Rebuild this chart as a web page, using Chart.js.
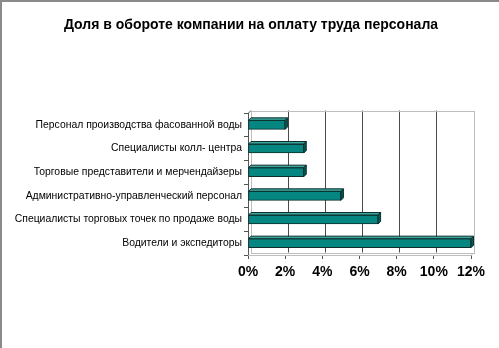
<!DOCTYPE html>
<html lang="ru">
<head>
<meta charset="utf-8">
<title>Доля в обороте компании на оплату труда персонала</title>
<script src="https://cdn.jsdelivr.net/npm/chart.js@4.4.1/dist/chart.umd.min.js"></script>
<style>
  html, body { margin: 0; padding: 0; background: #fff; }
  #wrap { width: 499px; height: 348px; position: relative; }
</style>
</head>
<body>
<div id="wrap"><canvas id="payrollChart" width="499" height="348"></canvas></div>
<script>
// Категории персонала (сверху вниз)
const categories = [
    'Персонал производства фасованной воды',
    'Специалисты колл- центра',
    'Торговые представители и мерчендайзеры',
    'Административно-управленческий персонал',
    'Специалисты торговых точек по продаже воды',
    'Водители и экспедиторы'
];
// Доля в обороте, %
const shares = [2, 3, 3, 5, 7, 12];
const axisMin = 0;
const axisMax = 12;
const axisStep = 2;
const chartTitle = 'Доля в обороте компании на оплату труда персонала';

const DEPTH = 2.5;

// Рамка и заголовок по центру всего полотна
const framePlugin = {
    id: 'frame',
    beforeDraw(chart) {
        const ctx = chart.ctx;
        ctx.save();
        ctx.fillStyle = '#ffffff';
        ctx.fillRect(0, 0, chart.width, chart.height);
        ctx.fillStyle = '#8a8a8a';
        ctx.fillRect(0, 0, chart.width, 2);
        ctx.fillRect(0, 0, 2, chart.height);

        ctx.fillStyle = '#000';
        ctx.font = 'bold 14px "Liberation Sans", Arial, sans-serif';
        ctx.textAlign = 'center';
        ctx.textBaseline = 'middle';
        ctx.fillText(chartTitle, 251, 25);
        ctx.restore();
    }
};

// Задняя стенка, пол и сетка в псевдо-3D
const wallsPlugin = {
    id: 'walls',
    beforeDatasetsDraw(chart) {
        const { ctx, chartArea: a, scales: { x } } = chart;
        const d = DEPTH;
        ctx.save();
        ctx.lineWidth = 1;

        // вертикальные линии сетки на задней стенке
        for (let v = axisMin + axisStep; v < axisMax; v += axisStep) {
            const px = Math.round(x.getPixelForValue(v) + d) + 0.5;
            ctx.strokeStyle = '#4a4a4a';
            ctx.beginPath();
            ctx.moveTo(px, a.top - d);
            ctx.lineTo(px, a.bottom - d);
            ctx.stroke();
        }

        // контур задней стенки
        ctx.strokeStyle = '#bdbdbd';
        ctx.strokeRect(Math.round(a.left + d) + 0.5, Math.round(a.top - d) + 0.5,
            Math.round(a.right - a.left), Math.round(a.bottom - a.top));

        // пол
        ctx.beginPath();
        ctx.moveTo(a.left, a.bottom + 0.5);
        ctx.lineTo(a.right, a.bottom + 0.5);
        ctx.lineTo(a.right + d, a.bottom - d + 0.5);
        ctx.stroke();

        // левая стенка
        ctx.strokeStyle = '#555';
        ctx.beginPath();
        ctx.moveTo(a.left + 0.5, a.top);
        ctx.lineTo(a.left + d + 0.5, a.top - d);
        ctx.stroke();
        ctx.restore();
    },
    // боковые и верхние грани столбиков
    afterDatasetsDraw(chart) {
        const ctx = chart.ctx;
        const d = DEPTH;
        const meta = chart.getDatasetMeta(0);
        ctx.save();
        ctx.lineWidth = 1;
        ctx.strokeStyle = '#0c2e2c';
        meta.data.forEach(bar => {
            const { x, y, base, height } = bar.getProps(['x', 'y', 'base', 'height'], true);
            const top = y - height / 2;
            const bottom = y + height / 2;

            ctx.fillStyle = '#3aa69e';
            ctx.beginPath();
            ctx.moveTo(base, top);
            ctx.lineTo(x, top);
            ctx.lineTo(x + d, top - d);
            ctx.lineTo(base + d, top - d);
            ctx.closePath();
            ctx.fill();
            ctx.stroke();

            ctx.fillStyle = '#045a55';
            ctx.beginPath();
            ctx.moveTo(x, top);
            ctx.lineTo(x + d, top - d);
            ctx.lineTo(x + d, bottom - d);
            ctx.lineTo(x, bottom);
            ctx.closePath();
            ctx.fill();
            ctx.stroke();
        });
        ctx.restore();
    }
};

const ctx = document.getElementById('payrollChart').getContext('2d');
const chart = new Chart(ctx, {
    type: 'bar',
    data: {
        labels: categories,
        datasets: [{
            data: shares,
            backgroundColor: '#068680',
            borderColor: '#0c2e2c',
            borderWidth: 1,
            borderSkipped: false,
            barThickness: 9
        }]
    },
    options: {
        indexAxis: 'y',
        responsive: false,
        animation: false,
        layout: { padding: { left: 0, right: 28, top: 113, bottom: 0 } },
        plugins: {
            legend: { display: false },
            tooltip: { enabled: false },
            title: { display: false }
        },
        scales: {
            x: {
                min: axisMin,
                max: axisMax,
                ticks: {
                    stepSize: axisStep,
                    color: '#000',
                    padding: 5,
                    maxRotation: 0,
                    font: { family: '"Liberation Sans", Arial, sans-serif', size: 14, weight: 'bold' },
                    callback: v => v + '%'
                },
                grid: { drawOnChartArea: false, tickLength: 4, color: '#555' },
                border: { display: true, color: '#9a9a9a' },
                afterFit(scale) { scale.height = 93; }
            },
            y: {
                ticks: {
                    color: '#000',
                    padding: 2,
                    font: { family: '"Liberation Sans", Arial, sans-serif', size: 10.4 }
                },
                grid: { drawOnChartArea: false, offset: true, tickLength: 4, color: '#555' },
                border: { display: true, color: '#555' },
                afterFit(scale) { scale.width = 248; }
            }
        }
    },
    plugins: [framePlugin, wallsPlugin]
});
</script>
</body>
</html>
